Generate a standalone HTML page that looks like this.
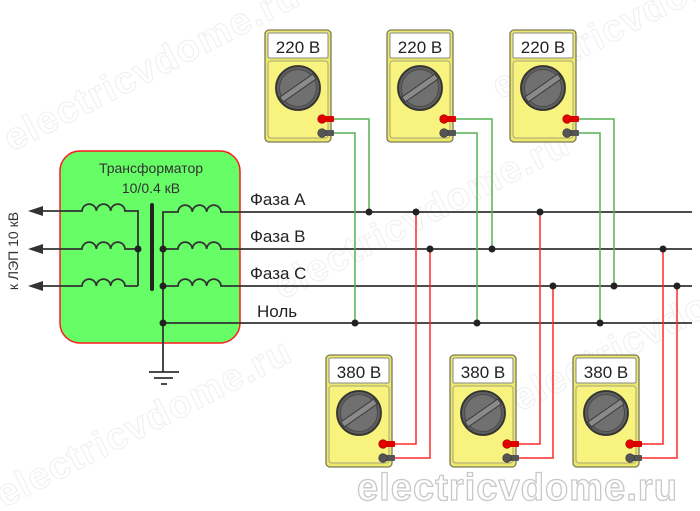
<!DOCTYPE html>
<html><head><meta charset="utf-8">
<style>
html,body{margin:0;padding:0;background:#fff;}
svg{display:block;}
text{font-family:"Liberation Sans","DejaVu Sans",sans-serif;}
</style></head>
<body>
<svg width="700" height="511" viewBox="0 0 700 511" xmlns="http://www.w3.org/2000/svg">
<defs>
<g id="meter">
  <rect x="0" y="0" width="66" height="112" rx="4" fill="#ece86a" stroke="#7a7a5a" stroke-width="1.3"/>
  <rect x="3" y="3" width="60" height="25" rx="1.5" fill="#fff" stroke="#8a8a8a" stroke-width="1"/>
  <rect x="3" y="31" width="60" height="77" rx="3" fill="#f7f37e" stroke="#a8a680" stroke-width="1"/>
  <circle cx="33" cy="58" r="22" fill="#5e5e5e" stroke="#333" stroke-width="1.8"/>
  <circle cx="33" cy="58" r="18.5" fill="#707070" stroke="#4a4a4a" stroke-width="1"/>
  <rect x="13" y="55" width="40" height="6" fill="#8a8a8a" stroke="#3a3a3a" stroke-width="1" transform="rotate(-35 33 58)"/>
  <rect x="57" y="86" width="12" height="6" rx="1" fill="#e00000"/>
  <circle cx="57" cy="89" r="4.3" fill="#e00000" stroke="#a00" stroke-width="0.6"/>
  <rect x="57" y="100" width="12" height="6" rx="1" fill="#555"/>
  <circle cx="57" cy="103" r="4.3" fill="#555" stroke="#333" stroke-width="0.6"/>
</g>
</defs>

<!-- faint watermarks -->
<g font-size="38" font-weight="bold" fill="none" stroke="#f0f0f0" stroke-width="1.1">
  <text transform="translate(12,152) rotate(-27)" textLength="325">electricvdome.ru</text>
  <text transform="translate(282,300) rotate(-27)" textLength="325">electricvdome.ru</text>
  <text transform="translate(4,508) rotate(-27)" textLength="325">electricvdome.ru</text>
  <text transform="translate(500,100) rotate(-27)" textLength="325">electricvdome.ru</text>
  <text transform="translate(520,412) rotate(-27)" textLength="325">electricvdome.ru</text>
</g>

<!-- transformer box -->
<rect x="60" y="151" width="180" height="192" rx="20" fill="#66fd66" stroke="#ff1a1a" stroke-width="1.5"/>
<text x="151" y="173" font-size="14" fill="#333" text-anchor="middle">Трансформатор</text>
<text x="151" y="193" font-size="14" fill="#333" text-anchor="middle">10/0.4 кВ</text>

<!-- core -->
<line x1="152" y1="205" x2="152" y2="289" stroke="#222" stroke-width="4" stroke-linecap="round"/>

<g fill="none" stroke="#333" stroke-width="1.8">
  <path d="M43,211 H82 a7.17,7.17 0 0 1 14.33,0 a7.17,7.17 0 0 1 14.33,0 a7.17,7.17 0 0 1 14.33,0 H138 V286"/>
  <path d="M43,249 H82 a7.17,7.17 0 0 1 14.33,0 a7.17,7.17 0 0 1 14.33,0 a7.17,7.17 0 0 1 14.33,0 H138"/>
  <path d="M43,286 H82 a7.17,7.17 0 0 1 14.33,0 a7.17,7.17 0 0 1 14.33,0 a7.17,7.17 0 0 1 14.33,0 H138"/>
  <path d="M163,372 V212 H178 a7.17,7.17 0 0 1 14.33,0 a7.17,7.17 0 0 1 14.33,0 a7.17,7.17 0 0 1 14.33,0 H692"/>
  <path d="M163,249 H178 a7.17,7.17 0 0 1 14.33,0 a7.17,7.17 0 0 1 14.33,0 a7.17,7.17 0 0 1 14.33,0 H692"/>
  <path d="M163,286 H178 a7.17,7.17 0 0 1 14.33,0 a7.17,7.17 0 0 1 14.33,0 a7.17,7.17 0 0 1 14.33,0 H692"/>
  <path d="M163,323 H692"/>
  <path d="M149,372 H179 M154,378 H173 M161,384 H167"/>
</g>

<!-- arrows -->
<g fill="#333">
  <polygon points="28,211 43,206 43,216"/>
  <polygon points="28,249 43,244 43,254"/>
  <polygon points="28,286 43,281 43,291"/>
</g>
<text transform="translate(18,251) rotate(-90)" font-size="14" fill="#333" text-anchor="middle">к ЛЭП 10 кВ</text>

<!-- labels -->
<g font-size="17" fill="#222">
  <text x="250" y="205">Фаза А</text>
  <text x="250" y="242">Фаза В</text>
  <text x="250" y="279">Фаза С</text>
  <text x="257" y="317">Ноль</text>
</g>

<!-- green wires -->
<g fill="none" stroke="#55b255" stroke-width="1.5">
  <path d="M334,119 H369 V212"/>
  <path d="M334,133 H355 V323"/>
  <path d="M456,119 H492 V249"/>
  <path d="M456,133 H477 V323"/>
  <path d="M579,119 H614 V286"/>
  <path d="M579,133 H600 V323"/>
</g>
<!-- red wires -->
<g fill="none" stroke="#ff2a2a" stroke-width="1.5">
  <path d="M395,444 H416 V212"/>
  <path d="M395,458 H430 V249"/>
  <path d="M519,444 H540 V212"/>
  <path d="M519,458 H553 V286"/>
  <path d="M642,444 H663 V249"/>
  <path d="M642,458 H677 V286"/>
</g>

<!-- dots -->
<g fill="#222">
  <circle cx="138" cy="249" r="3.5"/>
  <circle cx="163" cy="249" r="3.5"/>
  <circle cx="163" cy="286" r="3.5"/>
  <circle cx="163" cy="323" r="3.5"/>
  <circle cx="369" cy="212" r="3.5"/>
  <circle cx="416" cy="212" r="3.5"/>
  <circle cx="540" cy="212" r="3.5"/>
  <circle cx="430" cy="249" r="3.5"/>
  <circle cx="492" cy="249" r="3.5"/>
  <circle cx="663" cy="249" r="3.5"/>
  <circle cx="553" cy="286" r="3.5"/>
  <circle cx="614" cy="286" r="3.5"/>
  <circle cx="677" cy="286" r="3.5"/>
  <circle cx="355" cy="323" r="3.5"/>
  <circle cx="477" cy="323" r="3.5"/>
  <circle cx="600" cy="323" r="3.5"/>
</g>

<!-- meters -->
<use href="#meter" x="265" y="30"/>
<use href="#meter" x="387" y="30"/>
<use href="#meter" x="510" y="30"/>
<use href="#meter" x="326" y="355"/>
<use href="#meter" x="450" y="355"/>
<use href="#meter" x="573" y="355"/>
<g font-size="17" fill="#222" text-anchor="middle">
  <text x="298" y="53">220 В</text>
  <text x="420" y="53">220 В</text>
  <text x="543" y="53">220 В</text>
  <text x="359" y="378">380 В</text>
  <text x="483" y="378">380 В</text>
  <text x="606" y="378">380 В</text>
</g>

<!-- bottom watermark -->
<text x="357" y="500" font-size="38" font-weight="bold" fill="#fff" stroke="#c8c8c8" stroke-width="1.3" textLength="320">electricvdome.ru</text>
</svg>
</body></html>
